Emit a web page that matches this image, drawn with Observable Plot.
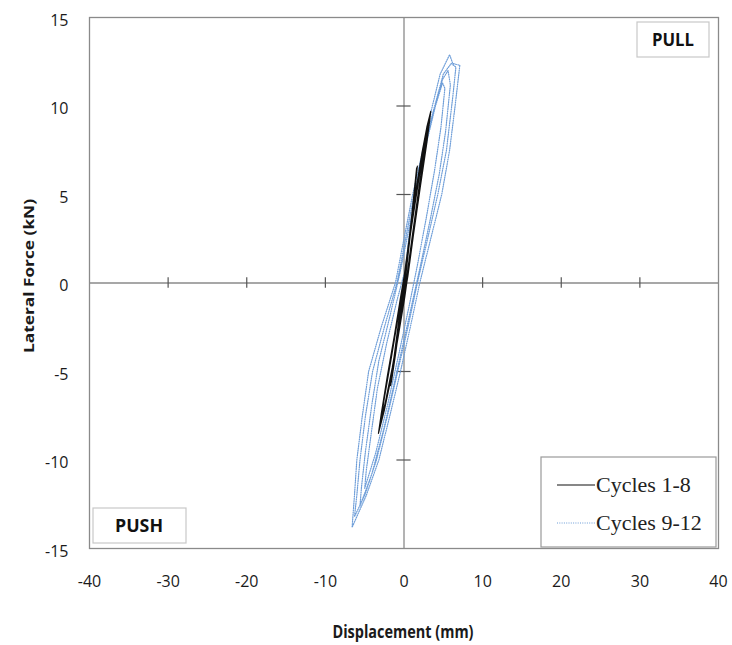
<!DOCTYPE html>
<html>
<head>
<meta charset="utf-8">
<script src="https://cdn.jsdelivr.net/npm/d3@7"></script>
<script src="https://cdn.jsdelivr.net/npm/@observablehq/plot@0.6"></script>
<style>
  html, body { margin: 0; padding: 0; background: #fff; }
</style>
</head>
<body>
<div id="chart"></div>
<script>
// ---- Data ----
const xTicks = [-40, -30, -20, -10, 0, 10, 20, 30, 40];
const yTicks = [-15, -10, -5, 0, 5, 10, 15];
const crossTicksX = [-30, -20, -10, 10, 20, 30];
const crossTicksY = [-10, -5, 5, 10];

const seriesNames = ["Cycles 1-8", "Cycles 9-12"];

// Cycles 1-8: displacement (mm) and lateral force (kN)
const cycles18Disp = [
  0, 0.5, 0.9, 0.6, 0.2, -0.3, -0.8, -0.5, -0.1, 0.05,
  0.5, 0.95, 0.65, 0.25, -0.3, -0.85, -0.55, -0.1,
  0.6, 1.1, 1.6, 1.3, 0.8, 0.3, -0.3, -1.0, -1.6, -1.2, -0.6, -0.1,
  0.6, 1.2, 1.7, 1.4, 0.9, 0.35, -0.3, -1.1, -1.7, -1.3, -0.6, -0.1,
  0.7, 1.5, 2.3, 2.9, 3.4, 3.1, 2.4, 1.5, 0.7, 0.1, -0.8, -1.7, -2.5, -3.25, -2.9, -2.1, -1.2, -0.4, 0.1,
  0.8, 1.7, 2.5, 3.2, 2.8, 2.0, 1.1, 0.4, -0.5, -1.5, -2.4, -3.0, -2.6, -1.7, -0.8, 0.0,
  0.9, 1.9, 2.7, 3.3, 2.9, 2.1, 1.2, 0.5, -0.4, -1.4, -2.3, -2.9, -2.5, -1.6, -0.7, 0.1
];
const cycles18Force = [
  0, 1.9, 3.3, 2.2, 0.5, -1.2, -2.9, -1.8, -0.3, 0.1,
  1.8, 3.4, 2.3, 0.6, -1.3, -3.0, -1.9, -0.3,
  2.2, 4.3, 6.5, 5.2, 3.0, 0.8, -1.5, -3.8, -5.6, -4.2, -1.9, 0.0,
  2.3, 4.6, 6.6, 5.3, 3.1, 0.9, -1.6, -4.0, -5.8, -4.3, -1.9, 0.0,
  2.6, 5.2, 7.4, 8.8, 9.7, 8.6, 6.5, 3.7, 1.1, -0.8, -3.2, -5.5, -7.2, -8.5, -7.4, -5.2, -2.9, -0.7, 0.6,
  2.8, 5.5, 7.6, 9.2, 8.0, 5.7, 2.8, 0.5, -2.2, -4.8, -6.8, -7.9, -6.7, -4.4, -2.0, 0.2,
  3.0, 5.9, 7.9, 9.3, 7.9, 5.5, 2.7, 0.4, -2.0, -4.6, -6.6, -7.7, -6.5, -4.2, -1.8, 0.3
];

// Cycles 9-12: displacement (mm) and lateral force (kN)
const cycles912Disp = [
  0, 0.6, 1.4, 2.4, 3.6, 4.6, 5.8, 6.2, 7.1,
  6.5, 5.8, 4.8, 3.4, 2.0, 0.8, -0.45, -1.8, -3.2, -4.8, -6.6,
  -6.3, -6.0, -5.3, -4.5, -2.9, -1.1, 0.0,
  1.1, 2.4, 3.9, 5.0, 6.0, 6.6,
  6.2, 5.4, 4.3, 3.0, 1.7, 0.5, -0.8, -2.1, -3.5, -5.0, -6.3,
  -6.0, -5.6, -4.9, -4.0, -2.5, -0.9, 0.2,
  1.3, 2.6, 3.9, 4.9, 5.6,
  5.9, 5.3, 4.5, 3.3, 2.1, 1.3, 0.1, -1.2, -2.6, -4.1, -5.6,
  -5.4, -4.9, -4.1, -3.2, -1.8, -0.5, 0.5,
  1.6, 2.8, 4.0, 4.9,
  5.2, 4.7, 3.9, 2.8, 1.7, 0.7, -0.6, -2.1, -3.6, -5.0,
  -4.8, -4.2, -3.4, -2.2, -0.9, 0.0
];
const cycles912Force = [
  0, 2.5, 5.0, 7.5, 10.0, 11.8, 12.9, 12.4, 12.3,
  10.0, 7.5, 5.0, 2.5, 0.0, -2.5, -5.0, -7.5, -10.0, -12.0, -13.8,
  -12.0, -10.0, -7.5, -5.0, -2.5, 0.0, 2.5,
  5.0, 7.5, 10.0, 11.8, 12.4, 12.2,
  10.5, 7.5, 5.0, 2.5, 0.0, -2.5, -5.0, -7.5, -10.0, -12.0, -13.2,
  -12.0, -10.0, -7.5, -5.0, -2.5, 0.0, 2.5,
  5.0, 7.5, 9.9, 11.5, 12.0,
  11.2, 8.6, 6.2, 3.5, 1.0, -0.6, -3.0, -5.6, -8.3, -10.8, -12.6,
  -11.5, -9.5, -6.9, -4.4, -1.9, 0.6, 2.8,
  5.2, 7.8, 10.0, 11.3,
  11.0, 8.8, 6.4, 3.6, 1.0, -1.2, -3.9, -6.9, -9.6, -11.6,
  -10.6, -8.6, -6.0, -3.4, -1.0, 0.5
];

// ---- Build tables for Plot ----
const black = cycles18Disp.map((d, i) => ({d, f: cycles18Force[i]}));
const blue = cycles912Disp.map((d, i) => ({d, f: cycles912Force[i]}));

const W = 732, H = 645;
const fmt = d => String(d);
const BLUE = "#6d9dd8";

const plot = Plot.plot({
  width: W,
  height: H,
  marginLeft: 89,
  marginRight: 14,
  marginTop: 17,
  marginBottom: 97,
  style: {fontFamily: "'Open Sans', sans-serif", fontSize: "16px", color: "#1a1a1a", background: "#fff", overflow: "visible"},
  x: {domain: [-40, 40]},
  y: {domain: [-15, 15]},
  marks: [
    Plot.frame({stroke: "#8a8a8a", strokeWidth: 1.3}),
    Plot.ruleX([0], {stroke: "#8a8a8a", strokeWidth: 1.3}),
    Plot.ruleY([0], {stroke: "#8a8a8a", strokeWidth: 1.3}),
    Plot.ruleX(crossTicksX, {x: d => d, y1: -0.3, y2: 0.3, stroke: "#555", strokeWidth: 1.2}),
    Plot.ruleY(crossTicksY, {y: d => d, x1: -0.9, x2: 0.9, stroke: "#555", strokeWidth: 1.2}),
    Plot.axisX({ticks: xTicks, tickFormat: fmt, tickSize: 0, tickPadding: 27, label: null, fontSize: 16}),
    Plot.axisY({ticks: yTicks, tickFormat: fmt, tickSize: 0, tickPadding: 21, label: null, fontSize: 16, dy: 3}),
    Plot.line(blue, {x: "d", y: "f", stroke: BLUE, strokeWidth: 1.2, strokeDasharray: "1,1.3", curve: "linear"}),
    Plot.line(black, {x: "d", y: "f", stroke: "#111", strokeWidth: 1.15, curve: "linear"})
  ]
});

document.getElementById("chart").appendChild(plot);

// ---- Annotations: titles, PULL/PUSH boxes, legend ----
const svg = d3.select(plot);
const g = svg.append("g").attr("text-anchor", "start");

// Axis titles
g.append("text")
  .attr("x", 403).attr("y", 638)
  .attr("text-anchor", "middle")
  .attr("font-family", "'Open Sans', sans-serif")
  .attr("font-weight", "bold").attr("font-size", 17)
  .attr("textLength", 141).attr("lengthAdjust", "spacingAndGlyphs")
  .attr("fill", "#1a1a1a")
  .text("Displacement (mm)");

g.append("text")
  .attr("transform", "translate(34,276) rotate(-90)")
  .attr("text-anchor", "middle")
  .attr("font-family", "'Open Sans', sans-serif")
  .attr("font-weight", "bold").attr("font-size", 15)
  .attr("textLength", 154).attr("lengthAdjust", "spacingAndGlyphs")
  .attr("fill", "#1a1a1a")
  .text("Lateral Force (kN)");

// PULL box
g.append("rect").attr("x", 637).attr("y", 22).attr("width", 72).attr("height", 35)
  .attr("fill", "#fff").attr("stroke", "#c8c8c8").attr("stroke-width", 1.2);
g.append("text").attr("x", 673).attr("y", 46)
  .attr("text-anchor", "middle")
  .attr("font-family", "'Open Sans', sans-serif").attr("font-weight", "bold").attr("font-size", 17)
  .attr("textLength", 42).attr("lengthAdjust", "spacingAndGlyphs")
  .attr("fill", "#111").text("PULL");

// PUSH box
g.append("rect").attr("x", 93).attr("y", 508).attr("width", 93).attr("height", 35)
  .attr("fill", "#fff").attr("stroke", "#c8c8c8").attr("stroke-width", 1.2);
g.append("text").attr("x", 139).attr("y", 532)
  .attr("text-anchor", "middle")
  .attr("font-family", "'Open Sans', sans-serif").attr("font-weight", "bold").attr("font-size", 17)
  .attr("textLength", 48).attr("lengthAdjust", "spacingAndGlyphs")
  .attr("fill", "#111").text("PUSH");

// Legend
g.append("rect").attr("x", 541).attr("y", 457).attr("width", 175).attr("height", 90)
  .attr("fill", "#fff").attr("stroke", "#9a9a9a").attr("stroke-width", 1.2);
const legendItems = [
  {name: seriesNames[0], stroke: "#111", dash: null, y: 485},
  {name: seriesNames[1], stroke: BLUE, dash: "1,1.3", y: 523}
];
legendItems.forEach(it => {
  g.append("line").attr("x1", 557).attr("x2", 595).attr("y1", it.y).attr("y2", it.y)
    .attr("stroke", it.stroke).attr("stroke-width", 1.2)
    .attr("stroke-dasharray", it.dash);
  g.append("text").attr("x", 596).attr("y", it.y + 7)
    .attr("text-anchor", "start")
    .attr("font-family", "'Liberation Serif', 'Times New Roman', serif")
    .attr("font-size", 22).attr("fill", "#222")
    .text(it.name);
});
</script>
</body>
</html>
